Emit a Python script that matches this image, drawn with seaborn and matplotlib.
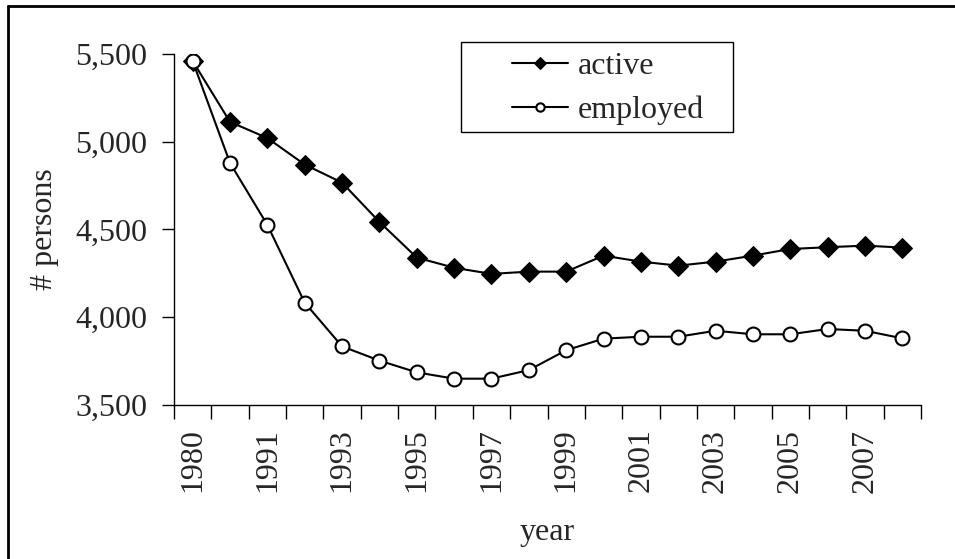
import matplotlib
matplotlib.use("Agg")
import matplotlib.pyplot as plt
import matplotlib.ticker as mticker
from matplotlib.lines import Line2D
from matplotlib.patches import Rectangle
import numpy as np
import pandas as pd
import seaborn as sns

# Данные
years = ["1980", "1990", "1991", "1992", "1993", "1994", "1995", "1996", "1997", "1998",
         "1999", "2000", "2001", "2002", "2003", "2004", "2005", "2006", "2007", "2008"]
active = [5460, 5113, 5021, 4870, 4767, 4543, 4340, 4282, 4247, 4260,
          4260, 4351, 4317, 4294, 4317, 4351, 4389, 4399, 4408, 4397]
employed = [5460, 4879, 4526, 4083, 3834, 3753, 3686, 3650, 3650, 3699,
            3812, 3878, 3889, 3889, 3923, 3903, 3903, 3933, 3923, 3880]

df = pd.DataFrame({"pos": np.arange(len(years)), "active": active, "employed": employed})

sns.set_theme(style="white")
plt.rcParams["font.family"] = ["Liberation Serif", "DejaVu Serif"]
fs = 23

fig = plt.figure(figsize=(9.55, 5.59), dpi=100)
ax = fig.add_axes([174 / 955, 1 - 405 / 559, (921 - 174) / 955, (405 - 54) / 559])

sns.lineplot(data=df, x="pos", y="active", ax=ax, color="black", lw=1.5,
             marker="D", markersize=10, markerfacecolor="black",
             markeredgecolor="black", label="active")
sns.lineplot(data=df, x="pos", y="employed", ax=ax, color="black", lw=1.5,
             marker="o", markersize=10, markerfacecolor="white",
             markeredgecolor="black", markeredgewidth=1.5, label="employed")

ax.set_xlim(-0.5, len(years) - 0.5)
ax.set_ylim(3500, 5500)
ax.yaxis.set_major_locator(mticker.MultipleLocator(500))
ax.yaxis.set_major_formatter(mticker.FuncFormatter(lambda v, p: f"{int(v):,}"))

# деления на границах категорий, подписи через одну под точками
ax.set_xticks(np.arange(len(years) + 1) - 0.5)
ax.set_xticklabels([])
ax.set_xticks(np.arange(0, len(years), 2), minor=True)
ax.set_xticklabels(years[::2], minor=True, rotation=90)
ax.tick_params(axis="x", which="major", direction="out", length=10, width=1, color="black", bottom=True)
ax.tick_params(axis="x", which="minor", length=0, pad=17, labelsize=fs)
ax.tick_params(axis="y", direction="out", length=9, width=1, color="black", left=True, labelsize=fs, pad=10)

for s in ["top", "right"]:
    ax.spines[s].set_visible(False)
for s in ["left", "bottom"]:
    ax.spines[s].set_color("black")
    ax.spines[s].set_linewidth(1)

ax.set_xlabel("year", fontsize=fs, labelpad=18)
ax.set_ylabel("# persons", fontsize=fs, labelpad=12)

# легенда без рамки + рамка отдельно
leg = ax.legend(loc="upper left", bbox_to_anchor=(512 / 955, 1 - 52 / 559),
                bbox_transform=fig.transFigure, fontsize=fs, frameon=False,
                markerscale=0.6, handlelength=1.75, borderpad=0, labelspacing=0.45,
                borderaxespad=0, handletextpad=0.3)
fig.add_artist(Rectangle((461 / 955, 1 - 132 / 559), (733 - 461) / 955, 90 / 559,
                         transform=fig.transFigure, fill=False, edgecolor="black", lw=1))

# рамка сверху и слева
fig.add_artist(Line2D([8 / 955, 1], [1 - 6 / 559, 1 - 6 / 559], color="black", lw=2))
fig.add_artist(Line2D([8 / 955, 8 / 955], [0, 1 - 6 / 559], color="black", lw=2))

fig.savefig("out.png", dpi=100)
